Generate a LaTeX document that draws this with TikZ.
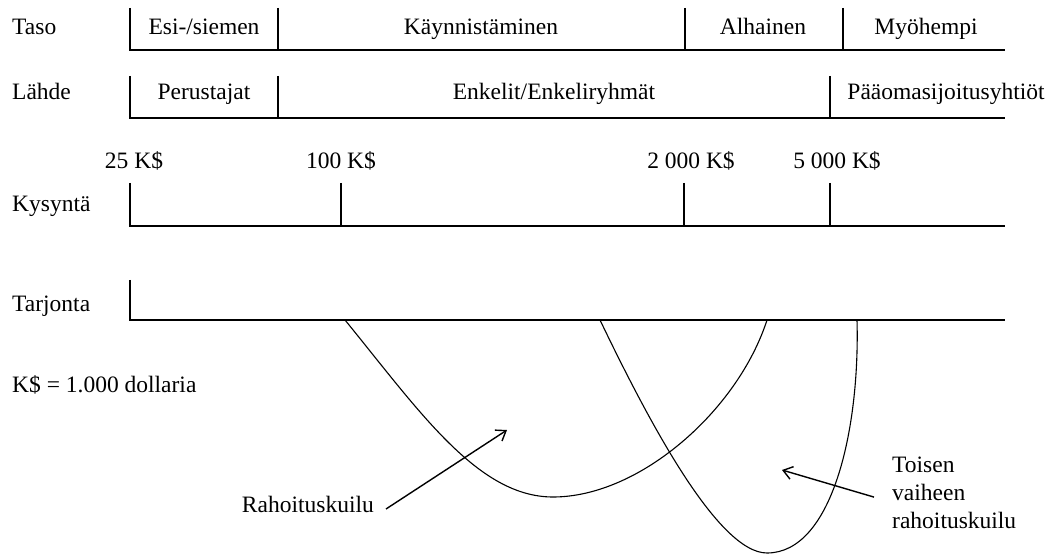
\documentclass[tikz,border=0pt]{standalone}
\usepackage{fontspec}
\setmainfont{Liberation Serif}
\usetikzlibrary{arrows.meta,positioning}

\begin{document}
\begin{tikzpicture}[x=1pt,y=-1pt,
	lbl/.style={anchor=base west,inner sep=0pt,font=\fontsize{23.5}{28}\selectfont},
	cell/.style={anchor=base,inner sep=0pt,font=\fontsize{23.5}{28}\selectfont},
	axis/.style={line width=1.3pt},
	gap/.style={line width=1.1pt},
	pointer/.style={-{Straight Barb[length=9pt,width=13pt]},line width=1.4pt}
	]
	\useasboundingbox (0,0) rectangle (1058,556);
	% rivien otsikot
	\node[lbl] (taso) at (12,35) {Taso};
	\node[lbl] (lahde) at (12,100) {Lähde};
	\node[lbl] (kys) at (12,212) {Kysyntä};
	\node[lbl] (tarj) at (12,311) {Tarjonta};
	\node[lbl] (kdef) at (12,392) {K\$ = 1.000 dollaria};
	% vaiheet
	\draw[axis] (130,8) -- (130,50) -- (1005,50);
	\draw[axis] (278,8) -- (278,50);
	\draw[axis] (685,8) -- (685,50);
	\draw[axis] (843,8) -- (843,50);
	\node[cell] (esi) at (204,35) {Esi-/siemen};
	\node[cell] (kaynn) at (481,35) {Käynnistäminen};
	\node[cell] (alh) at (763,35) {Alhainen};
	\node[cell] (myoh) at (926,35) {Myöhempi};
	% lähteet
	\draw[axis] (130,76) -- (130,118) -- (1005,118);
	\draw[axis] (278,76) -- (278,118);
	\draw[axis] (830,76) -- (830,118);
	\node[cell] (per) at (204,100) {Perustajat};
	\node[cell] (enk) at (554,100) {Enkelit/Enkeliryhmät};
	\node[cell] (paa) at (946,100) {Pääomasijoitusyhtiöt};
	% kysyntä
	\draw[axis] (130,183) -- (130,226) -- (1005,226);
	\draw[axis] (341,183) -- (341,226);
	\draw[axis] (684,183) -- (684,226);
	\draw[axis] (830,183) -- (830,226);
	\node[cell] (k25) at (134,169) {25 K\$};
	\node[cell] (k100) at (341,169) {100 K\$};
	\node[cell] (k2000) at (691,169) {2 000 K\$};
	\node[cell] (k5000) at (837,169) {5 000 K\$};
	% tarjonta
	\draw[axis] (130,280) -- (130,320) -- (1005,320);
	\draw[gap] (345,320) .. controls (420,412) and (478,497) .. (553,497)
		.. controls (640,497) and (738,410) .. (767,320);
	\draw[gap] (600,320) .. controls (648,420) and (718,553) .. (767,553)
		.. controls (832,553) and (860,430) .. (857,320);
	% selitteet
	\node[cell,anchor=base east] (rah) at (374,512) {Rahoituskuilu};
	\node[anchor=north west,inner sep=0pt,align=left,font=\fontsize{23.5}{28}\selectfont] (toinen) at (892,457) {Toisen\\vaiheen\\rahoituskuilu};
	\coordinate (gap1) at (507,430);
	\coordinate (gap2) at (782,470);
	\draw[pointer] ([xshift=12pt,yshift=3pt]rah.base east) -- (gap1);
	\draw[pointer] ([xshift=-18pt,yshift=-4pt]toinen.west) -- (gap2);
\end{tikzpicture}
\end{document}
